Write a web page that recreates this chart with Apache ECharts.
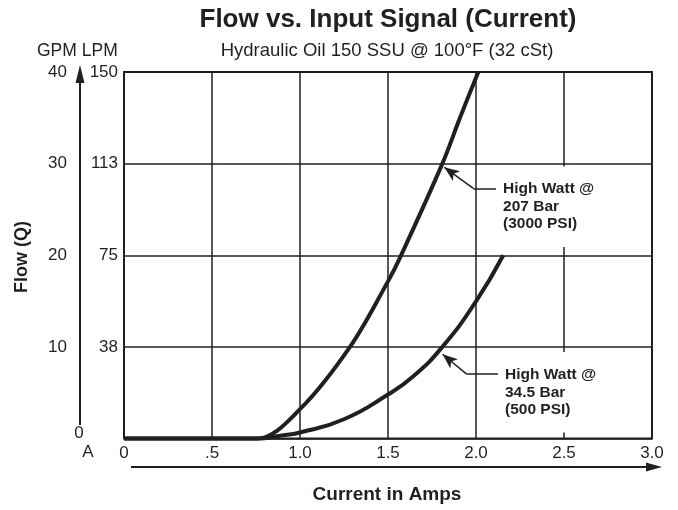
<!DOCTYPE html>
<html>
<head>
<meta charset="utf-8">
<script src="https://cdn.jsdelivr.net/npm/echarts@6/dist/echarts.min.js"></script>
<style>
  html, body { margin: 0; padding: 0; background: #fff; }
  #chart { width: 678px; height: 510px; }
</style>
</head>
<body>
<div id="chart"></div>
<script>
// flow curves: [current (A), flow (GPM)]
const highWatt207 = [[0, 0], [0.7, 0], [0.76, 0], [1.0, 3.2], [1.284, 10], [1.5, 17.15], [1.565, 19.6], [1.809, 30], [1.909, 35], [2.013, 40]];
const highWatt34 = [[0, 0], [0.7, 0], [0.76, 0], [0.886, 0.3], [1.0, 0.65], [1.25, 2.1], [1.5, 4.8], [1.644, 6.8], [1.809, 10], [2.0, 14.97], [2.155, 20]];
const ampLabels = ['0', '.5', '1.0', '1.5', '2.0', '2.5', '3.0'];
const gpmLabels = ['', '10', '20', '30', '40'];
const lpmLabels = ['', '38', '75', '113', '150'];

const ink = '#231f20';
const font = '"Liberation Sans", Arial, Helvetica, sans-serif';

let chart = echarts.init(document.getElementById('chart'));

function callout(tip, elbow, end) {
  return {
    silent: true,
    animation: false,
    symbol: ['none', 'none'],
    label: { show: false },
    lineStyle: { color: ink, width: 1.5, type: 'solid' },
    emphasis: { disabled: true },
    data: [
      [{ coord: end }, { coord: elbow }],
      [{ coord: elbow }, { coord: tip, symbol: 'arrow', symbolSize: [9, 15] }],
    ],
  };
}

function note(coord, text) {
  return {
    silent: true,
    animation: false,
    symbol: 'circle',
    symbolSize: 0,
    data: [{
      coord: coord,
      value: 0,
      label: {
        show: true,
        position: 'right',
        distance: 0,
        formatter: text,
        color: ink,
        fontFamily: font,
        fontWeight: 'bold',
        fontSize: 15.5,
        lineHeight: 17.5,
        align: 'left',
        backgroundColor: '#fff',
        padding: [14, 6, 14, 4],
      },
    }],
  };
}

let option = {
  backgroundColor: '#fff',
  animation: false,
  textStyle: { fontFamily: font, color: ink },
  grid: {
    left: 124,
    right: 26,
    top: 72,
    bottom: 71.5,
    show: true,
    borderColor: ink,
    borderWidth: 2,
  },
  xAxis: {
    type: 'value',
    min: 0,
    max: 3,
    interval: 0.5,
    axisLine: { show: false },
    axisTick: { show: false },
    axisLabel: {
      margin: 6,
      fontSize: 17,
      color: ink,
      formatter: (v) => ampLabels[Math.round(v / 0.5)],
    },
    splitLine: { show: true, lineStyle: { color: ink, width: 1.5 } },
  },
  yAxis: [
    {
      type: 'value',
      min: 0,
      max: 40,
      interval: 10,
      axisLine: { show: false },
      axisTick: { show: false },
      axisLabel: {
        margin: 6,
        fontSize: 17,
        color: ink,
        formatter: (v) => lpmLabels[Math.round(v / 10)],
      },
      splitLine: { show: true, lineStyle: { color: ink, width: 1.5 } },
    },
    {
      type: 'value',
      position: 'left',
      offset: 44,
      min: 0,
      max: 40,
      interval: 10,
      axisLine: { show: false },
      axisTick: { show: false },
      splitLine: { show: false },
      axisLabel: {
        margin: 13,
        fontSize: 17,
        color: ink,
        formatter: (v) => gpmLabels[Math.round(v / 10)],
      },
    },
  ],
  graphic: [
    { type: 'text', x: 388, y: 20, style: { text: 'Flow vs. Input Signal (Current)', font: 'bold 26px ' + font, fill: ink, align: 'center', verticalAlign: 'middle' } },
    { type: 'text', x: 387, y: 51, style: { text: 'Hydraulic Oil 150 SSU @ 100°F (32 cSt)', font: '18.5px ' + font, fill: ink, align: 'center', verticalAlign: 'middle' } },
    { type: 'text', x: 37, y: 51, style: { text: 'GPM LPM', font: '17.5px ' + font, fill: ink, align: 'left', verticalAlign: 'middle' } },
    { type: 'text', x: 22, y: 257, rotation: Math.PI / 2, style: { text: 'Flow (Q)', font: 'bold 18px ' + font, fill: ink, align: 'center', verticalAlign: 'middle' } },
    { type: 'text', x: 79, y: 433, style: { text: '0', font: '17px ' + font, fill: ink, align: 'center', verticalAlign: 'middle' } },
    { type: 'text', x: 88, y: 452, style: { text: 'A', font: '17px ' + font, fill: ink, align: 'center', verticalAlign: 'middle' } },
    { type: 'text', x: 387, y: 495, style: { text: 'Current in Amps', font: 'bold 19px ' + font, fill: ink, align: 'center', verticalAlign: 'middle' } },
    // flow arrow
    { type: 'line', shape: { x1: 80, y1: 425, x2: 80, y2: 80 }, style: { stroke: ink, lineWidth: 2 } },
    { type: 'polygon', shape: { points: [[80, 65], [75.5, 83], [84.5, 83]] }, style: { fill: ink } },
    // current arrow
    { type: 'line', shape: { x1: 131, y1: 467, x2: 650, y2: 467 }, style: { stroke: ink, lineWidth: 2 } },
    { type: 'polygon', shape: { points: [[662, 467], [646, 462.5], [646, 471.5]] }, style: { fill: ink } },
  ],
  series: [
    {
      name: 'High Watt @ 207 Bar',
      type: 'line',
      data: highWatt207,
      showSymbol: false,
      smooth: 0.35,
      clip: false,
      silent: true,
      lineStyle: { color: ink, width: 4 },
      markLine: callout([1.82, 29.6], [1.985, 27.3], [2.114, 27.3]),
      markPoint: note([2.131, 25.3], 'High Watt @\n207 Bar\n(3000 PSI)'),
    },
    {
      name: 'High Watt @ 34.5 Bar',
      type: 'line',
      data: highWatt34,
      showSymbol: false,
      smooth: 0.5,
      clip: false,
      silent: true,
      lineStyle: { color: ink, width: 4 },
      markLine: callout([1.81, 9.2], [1.947, 7.02], [2.125, 7.02]),
      markPoint: note([2.142, 5.05], 'High Watt @\n34.5 Bar\n(500 PSI)'),
    },
  ],
};

chart.setOption(option);
window.addEventListener('resize', function () {
  chart.resize();
});
</script>
</body>
</html>
